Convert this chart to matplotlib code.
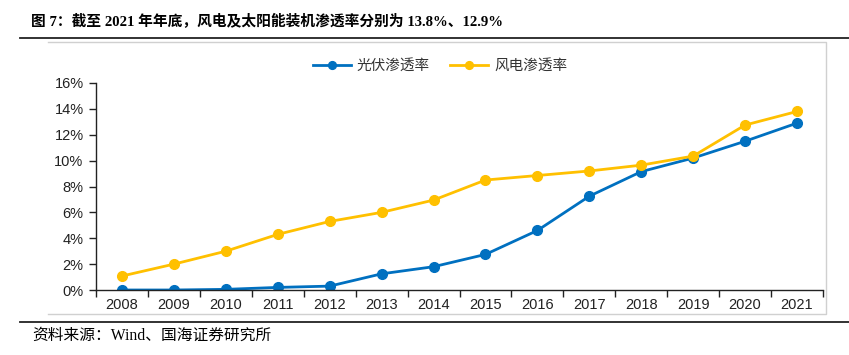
import matplotlib.pyplot as plt
from matplotlib.lines import Line2D
import numpy as np

years = ['2008', '2009', '2010', '2011', '2012', '2013', '2014',
         '2015', '2016', '2017', '2018', '2019', '2020', '2021']
solar = [0.0, 0.0, 0.05, 0.2, 0.3, 1.25, 1.8, 2.75, 4.6, 7.25, 9.15, 10.2, 11.5, 12.9]
wind = [1.08, 2.0, 3.0, 4.3, 5.3, 6.0, 6.95, 8.5, 8.85, 9.2, 9.65, 10.35, 12.75, 13.8]
y_ticks = [0, 2, 4, 6, 8, 10, 12, 14, 16]

blue = '#0070C0'
yellow = '#FFC000'
cjk = ['Noto Sans CJK SC', 'DejaVu Sans']
serif_cjk = ['Liberation Serif', 'Noto Sans CJK SC']

fig = plt.figure(figsize=(8.49, 3.55), dpi=100)
W, H = 849, 355

def fx(px):
    return px / W

def fy(py):
    return 1 - py / H

# title and rules
fig.text(fx(31), fy(22), '图 7：截至 2021 年年底，风电及太阳能装机渗透率分别为 13.8%、12.9%',
         family=serif_cjk, fontweight='bold', fontsize=10.6, va='center', ha='left')
fig.add_artist(Line2D([fx(20), 1], [fy(38), fy(38)], color='#222222', lw=1.3))
fig.add_artist(Line2D([fx(20), 1], [fy(322), fy(322)], color='#222222', lw=1.3))
fig.text(fx(32), fy(336), '资料来源：Wind、国海证券研究所',
         family=serif_cjk, fontsize=11.3, va='center', ha='left')

# light frame
fig.add_artist(Line2D([fx(48), fx(826), fx(826), fx(48)],
                      [fy(42), fy(42), fy(314), fy(314)], color='#d0d0d0', lw=1))

ax = fig.add_axes([fx(96), fy(290), fx(823) - fx(96), fy(83) - fy(290)])
x = np.arange(len(years))
ax.plot(x, solar, color=blue, lw=2, marker='o', ms=7, label='光伏渗透率')
ax.plot(x, wind, color=yellow, lw=2, marker='o', ms=7, label='风电渗透率')

ax.set_xlim(-0.5, len(years) - 0.5)
ax.set_ylim(0, 16)
ax.set_yticks(y_ticks)
ax.set_yticklabels([f'{v}%' for v in y_ticks])
ax.set_xticks(x)
ax.set_xticklabels(years)
ax.set_xticks(np.arange(-0.5, len(years)), minor=True)
ax.tick_params(axis='x', which='major', length=0, pad=6)
ax.tick_params(axis='x', which='minor', length=5, width=1, color='#222222')
ax.tick_params(axis='y', length=5, width=1, color='#222222', pad=4)
for lab in ax.get_xticklabels() + ax.get_yticklabels():
    lab.set_family('Liberation Sans')
    lab.set_fontsize(10.5)
    lab.set_color('#222222')
for s in ['top', 'right']:
    ax.spines[s].set_visible(False)
for s in ['left', 'bottom']:
    ax.spines[s].set_color('#222222')
    ax.spines[s].set_linewidth(1)

leg = ax.legend(loc='center', bbox_to_anchor=((440 - 96) / 727, (fy(66) - fy(290)) / (fy(83) - fy(290))),
                ncol=2, frameon=False, prop={'family': cjk, 'size': 10.5},
                handlelength=2.6, columnspacing=1.4, handletextpad=0.4, markerscale=0.8)
for t in leg.get_texts():
    t.set_color('#333333')

fig.savefig('out.png', dpi=100)
